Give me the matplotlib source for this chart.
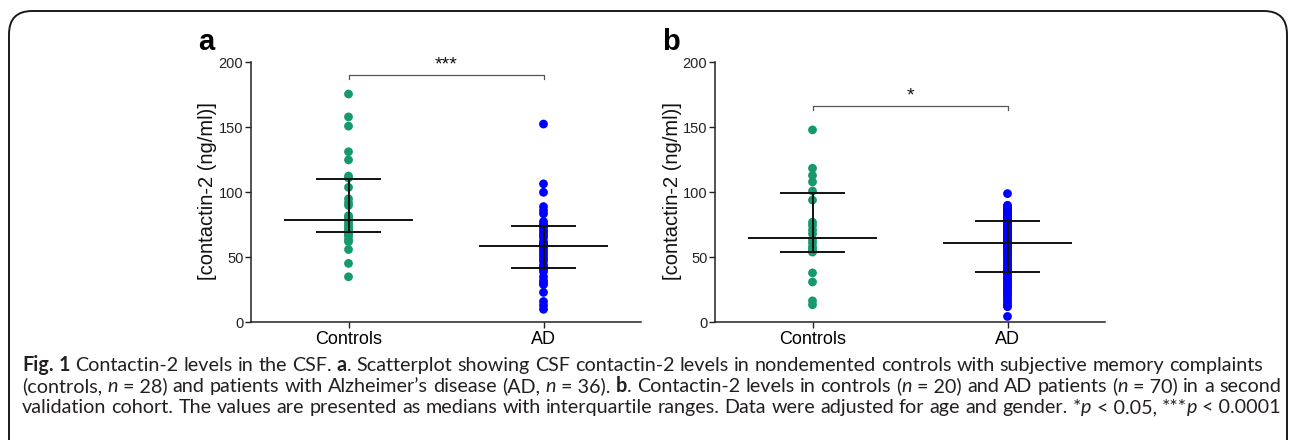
import matplotlib
matplotlib.use("Agg")
import matplotlib.pyplot as plt
from matplotlib.patches import FancyBboxPatch
import numpy as np

# ---------------- data ----------------
groups = ["Controls", "AD"]
ctrl_a = [175.6, 158, 150.9, 131.2, 124.9, 112.5, 111, 103.8, 95, 92,
          89.9, 82, 80.5, 79.5, 78, 76, 74, 72.5, 71, 70,
          69, 67.5, 66, 63.3, 62, 56, 45.3, 35]
ad_a = [152.5, 106.5, 100, 89, 86, 83.5, 77.5, 75.5, 74.5, 73.5,
        71, 69, 67, 65, 62, 60, 59.5, 58.5, 57, 55,
        53, 51, 49, 47, 44, 42, 41, 39, 35, 32,
        30, 29, 23, 16, 13, 10]
ctrl_b = [148, 118.5, 113, 108, 101, 94, 77, 74.5, 71, 68,
          63.5, 61, 58, 56, 54.5, 54, 38, 31, 16.5, 13.5]
ad_b = [99, 90, 89, 88, 87, 86, 85.5, 84.5, 83.5, 82.5, 81.5, 81, 80, 79.5, 79, 78.5, 78,
        77, 76, 75, 74, 73, 72, 71, 70, 69, 68, 67, 66, 65, 64, 63, 62.5, 61.5,
        60.5, 59, 58, 57, 56, 54.5, 53, 52, 50.5, 49, 48, 46.5, 45, 43.5, 42, 40.5, 39.5,
        38.5, 37, 35.5, 34, 32.5, 31, 29.5, 28, 26.5, 25, 23.5, 22, 20.5, 19, 17, 15, 13, 12,
        4.5]
median_a = [78.7, 59.0]
q1_a = [69.5, 41.5]
q3_a = [110.0, 74.1]
median_b = [64.6, 61.3]
q1_b = [54.4, 39.0]
q3_b = [99.2, 78.0]
sig_a = "***"
sig_b = "*"
bracket_y = [190.0, 166.4]
yticks = [0, 50, 100, 150, 200]
ylabel = "[contactin-2 (ng/ml)]"

GREEN = "#16996B"
BLUE = "#0000FF"
W, H = 1290, 440

fig = plt.figure(figsize=(W / 100, H / 100), dpi=100)
fig.patch.set_facecolor("white")

def px_rect(x0, y0, x1, y1):
    return [x0 / W, 1 - y1 / H, (x1 - x0) / W, (y1 - y0) / H]

# rounded frame
frame = FancyBboxPatch((9 / W, -0.2), (1287 - 9) / W, (1 - 11 / H) + 0.2,
                       boxstyle="round,pad=0,rounding_size=0.018",
                       transform=fig.transFigure, fill=False,
                       edgecolor="#1a1a1a", linewidth=1.4,
                       mutation_aspect=W / H)
fig.patches.append(frame)

sans = ["Liberation Sans", "DejaVu Sans"]

def panel(rect, ctrl, ad, med, q1, q3, sig, by, letter, letter_xy, ylab_x):
    ax = fig.add_axes(rect)
    for i, vals in enumerate([ctrl, ad]):
        ax.scatter(np.full(len(vals), i), vals, s=40, color=[GREEN, BLUE][i],
                   edgecolors="none", zorder=2, clip_on=False)
    for i in range(2):
        ax.hlines(med[i], i - 0.33, i + 0.33, color="#111111", lw=1.4, zorder=3)
        ax.hlines([q1[i], q3[i]], i - 0.165, i + 0.165, color="#111111", lw=1.4, zorder=3)
        ax.vlines(i, q1[i], q3[i], color="#111111", lw=1.4, zorder=3)
    ax.plot([0, 0, 1, 1], [by - 3, by, by, by - 3], color="#555555", lw=0.9)
    ax.text(0.5, by + 1.5, sig, ha="center", va="bottom", fontsize=14,
            family=sans, color="#111111")
    ax.set_xlim(-0.5, 1.5)
    ax.set_ylim(0, 200)
    ax.set_yticks(yticks)
    ax.set_xticks([0, 1])
    ax.set_xticklabels(groups, fontsize=13, family=sans)
    for t in ax.get_yticklabels():
        t.set_fontsize(10.5)
        t.set_family(sans)
        t.set_color("#222222")
    for s in ["top", "right"]:
        ax.spines[s].set_visible(False)
    for s in ["left", "bottom"]:
        ax.spines[s].set_linewidth(1.1)
        ax.spines[s].set_color("#222222")
    ax.tick_params(axis="y", direction="out", length=4, width=1.0, pad=1.5, color="#222222")
    ax.tick_params(axis="x", direction="out", length=4, width=1.0, pad=2, color="#222222")
    ax.set_ylabel(ylabel, fontsize=14.5, family=sans, color="#111111")
    ax.yaxis.set_label_coords(ylab_x, 0.505)
    fig.text(letter_xy[0] / W, 1 - letter_xy[1] / H, letter, fontsize=21,
             fontweight="bold", family=sans, ha="left", va="baseline")
    return ax

panel(px_rect(251, 62.3, 641, 322.3), ctrl_a, ad_a, median_a, q1_a, q3_a,
      sig_a, bracket_y[0], "a", (198, 50), -0.087)
panel(px_rect(715, 62.3, 1105, 322.3), ctrl_b, ad_b, median_b, q1_b, q3_b,
      sig_b, bracket_y[1], "b", (662, 50), -0.085)

# ---------------- caption ----------------
cap_font = ["Lato", "DejaVu Sans"]
NB = "\u00a0"
lines = [
    [("Fig. 1", "b"), (" Contactin-2 levels in the CSF. ", "n"), ("a", "b"),
     (". Scatterplot showing CSF contactin-2 levels in nondemented controls with subjective memory complaints", "n")],
    [("(controls, ", "n"), ("n", "i"), (NB + "=" + NB + "28) and patients with Alzheimer\u2019s disease (AD, ", "n"),
     ("n", "i"), (NB + "=" + NB + "36). ", "n"), ("b", "b"),
     (". Contactin-2 levels in controls (", "n"), ("n", "i"), (NB + "=" + NB + "20) and AD patients (", "n"),
     ("n", "i"), (NB + "=" + NB + "70) in a second", "n")],
    [("validation cohort. The values are presented as medians with interquartile ranges. Data were adjusted for age and gender. *", "n"),
     ("p", "i"), (NB + "<" + NB + "0.05, ***", "n"), ("p", "i"), (NB + "<" + NB + "0.0001", "n")],
]
line_base = [371, 392, 413]
x_left = 22
x_right = [1263, 1281, 1281]

renderer = fig.canvas.get_renderer()

def style_kw(st, size):
    kw = dict(fontsize=size, family=cap_font, color="#231f20")
    if st == "b":
        kw["fontweight"] = "bold"
    if st == "i":
        kw["fontstyle"] = "italic"
    return kw

def measure(txt, st, size):
    t = fig.text(0, 0, txt, **style_kw(st, size))
    w = t.get_window_extent(renderer).width
    t.remove()
    return w

def split_words(pieces):
    words = [[]]
    for txt, st in pieces:
        parts = txt.split(" ")
        for k, p in enumerate(parts):
            if k > 0:
                words.append([])
            if p:
                words[-1].append((p, st))
    return [w for w in words if w]

def natural_width(words, size):
    sw = measure("a a", "n", size) - measure("aa", "n", size)
    return sum(measure(p, st, size) for w in words for p, st in w) + sw * (len(words) - 1)

all_words = [split_words(p) for p in lines]
ref = 10.0
nat = max(natural_width(all_words[k], ref) / (x_right[k] - x_left) for k in range(3))
cap_size = ref / nat

for li, words in enumerate(all_words):
    widths = [[measure(p, st, cap_size) for p, st in w] for w in words]
    total = sum(sum(ws) for ws in widths)
    gap = (x_right[li] - x_left - total) / (len(words) - 1)
    x = x_left
    for w, ws in zip(words, widths):
        for (p, st), pw in zip(w, ws):
            fig.text(x / W, 1 - line_base[li] / H, p, ha="left", va="baseline",
                     **style_kw(st, cap_size))
            x += pw
        x += gap

fig.savefig("out.png", dpi=100, facecolor="white")
